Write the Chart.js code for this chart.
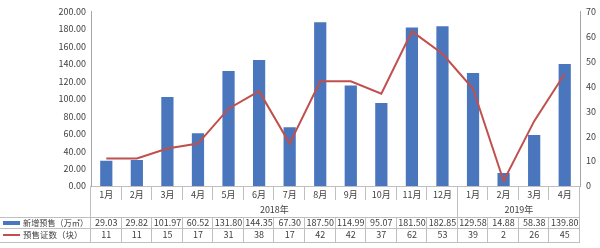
<!DOCTYPE html>
<html>
<head>
<meta charset="utf-8">
<script src="https://cdn.jsdelivr.net/npm/chart.js@4.4.1/dist/chart.umd.min.js"></script>
<style>
  html, body { margin: 0; padding: 0; background: #fff; }
</style>
</head>
<body>
<canvas id="chart" width="600" height="248"></canvas>
<script>
// 数据
const months = ['1月', '2月', '3月', '4月', '5月', '6月', '7月', '8月', '9月', '10月', '11月', '12月', '1月', '2月', '3月', '4月'];
const years = ['2018年', '2019年'];
const yearSpans = [12, 4];
const seriesNames = ['新增预售（万㎡）', '预售证数（块）'];
const newSupply = [29.03, 29.82, 101.97, 60.52, 131.80, 144.35, 67.30, 187.50, 114.99, 95.07, 181.50, 182.85, 129.58, 14.88, 58.38, 139.80];
const permits = [11, 11, 15, 17, 31, 38, 17, 42, 42, 37, 62, 53, 39, 2, 26, 45];
const leftTicks = [0, 200, 20];
const rightTicks = [0, 70, 10];

const FONT = '"Noto Sans CJK SC", "Noto Sans", sans-serif';
const TEXT = '#404040';
const LINE = '#bfbfbf';
const BLUE = '#4a76bd';
const RED = '#c0504d';

// 表格 + 年份（用 x 轴的位置来画）
const tablePlugin = {
  id: 'dataTable',
  afterDraw(chart) {
    const ctx = chart.ctx;
    const x = chart.scales.x;
    const bottom = chart.chartArea.bottom;
    const step = (x.right - x.left) / months.length;
    const edge = i => x.left + i * step;
    const monthRow = bottom + 14, tTop = bottom + 31, tMid = bottom + 42, tBot = bottom + 56;

    ctx.save();
    ctx.strokeStyle = LINE;
    ctx.lineWidth = 1;
    const vline = (px, y0, y1) => {
      ctx.beginPath();
      ctx.moveTo(Math.round(px) - 0.5, y0);
      ctx.lineTo(Math.round(px) - 0.5, y1);
      ctx.stroke();
    };
    const hline = (py, x0, x1) => {
      ctx.beginPath();
      ctx.moveTo(x0, py + 0.5);
      ctx.lineTo(x1, py + 0.5);
      ctx.stroke();
    };

    // 月份分隔线
    for (let i = 1; i < months.length; i++) vline(edge(i), bottom, monthRow);
    // 年份分组线
    let acc = 0;
    yearSpans.forEach(n => { acc += n; vline(edge(acc), bottom, tTop); });
    vline(edge(0), bottom, tBot);
    // 表格线
    for (let i = 1; i <= months.length; i++) vline(edge(i), tTop, tBot);
    hline(tTop, 0, edge(months.length));
    hline(tMid, 0, edge(months.length));
    hline(tBot, 0, edge(months.length));

    ctx.fillStyle = TEXT;
    ctx.textAlign = 'center';
    ctx.textBaseline = 'middle';
    ctx.font = '9px ' + FONT;
    // 年份
    acc = 0;
    years.forEach((y, k) => {
      const a = edge(acc), b = edge(acc + yearSpans[k]);
      ctx.fillText(y, (a + b) / 2, bottom + 24);
      acc += yearSpans[k];
    });

    // 数值
    const r1 = (tTop + tMid) / 2 + 0.5, r2 = (tMid + tBot) / 2;
    months.forEach((m, i) => {
      const cx = x.getPixelForValue(i);
      ctx.fillText(newSupply[i].toFixed(2), cx, r1);
      ctx.fillText(String(permits[i]), cx, r2);
    });

    // 图例
    ctx.fillStyle = BLUE;
    ctx.fillRect(3, r1 - 2, 17, 4);
    ctx.strokeStyle = RED;
    ctx.lineWidth = 2;
    ctx.beginPath();
    ctx.moveTo(3, r2);
    ctx.lineTo(20, r2);
    ctx.stroke();
    ctx.fillStyle = TEXT;
    ctx.textAlign = 'left';
    ctx.font = '8.5px ' + FONT;
    ctx.fillText(seriesNames[0], 23, r1, edge(0) - 26);
    ctx.fillText(seriesNames[1], 23, r2, edge(0) - 26);
    ctx.restore();
  }
};

new Chart(document.getElementById('chart').getContext('2d'), {
  type: 'bar',
  data: {
    labels: months,
    datasets: [
      {
        type: 'line',
        label: seriesNames[1],
        data: permits,
        yAxisID: 'y1',
        borderColor: RED,
        borderWidth: 2,
        pointRadius: 0,
        tension: 0,
        order: 0
      },
      {
        label: seriesNames[0],
        data: newSupply,
        yAxisID: 'y',
        backgroundColor: BLUE,
        categoryPercentage: 0.8,
        barPercentage: 0.5,
        order: 1
      }
    ]
  },
  options: {
    responsive: false,
    animation: false,
    devicePixelRatio: 1,
    layout: { padding: { top: 10, left: 0, right: 0, bottom: 0 } },
    plugins: {
      legend: { display: false },
      tooltip: { enabled: false }
    },
    scales: {
      x: {
        grid: { display: false, drawTicks: false },
        border: { color: LINE },
        ticks: { color: TEXT, font: { family: FONT, size: 9 }, padding: 3, maxRotation: 0, autoSkip: false },
        afterFit: s => { s.height = 62; }
      },
      y: {
        position: 'left',
        min: leftTicks[0], max: leftTicks[1],
        grid: { display: false, drawTicks: false },
        border: { color: '#a6a6a6' },
        ticks: { stepSize: leftTicks[2], color: TEXT, font: { family: FONT, size: 9 }, padding: 5,
                 callback: v => v.toFixed(2) },
        afterFit: s => { s.width = 91; }
      },
      y1: {
        position: 'right',
        min: rightTicks[0], max: rightTicks[1],
        grid: { display: false, drawTicks: false },
        border: { color: '#a6a6a6' },
        ticks: { stepSize: rightTicks[2], color: TEXT, font: { family: FONT, size: 9 }, padding: 6 },
        afterFit: s => { s.width = 20; }
      }
    }
  },
  plugins: [tablePlugin]
});
</script>
</body>
</html>
